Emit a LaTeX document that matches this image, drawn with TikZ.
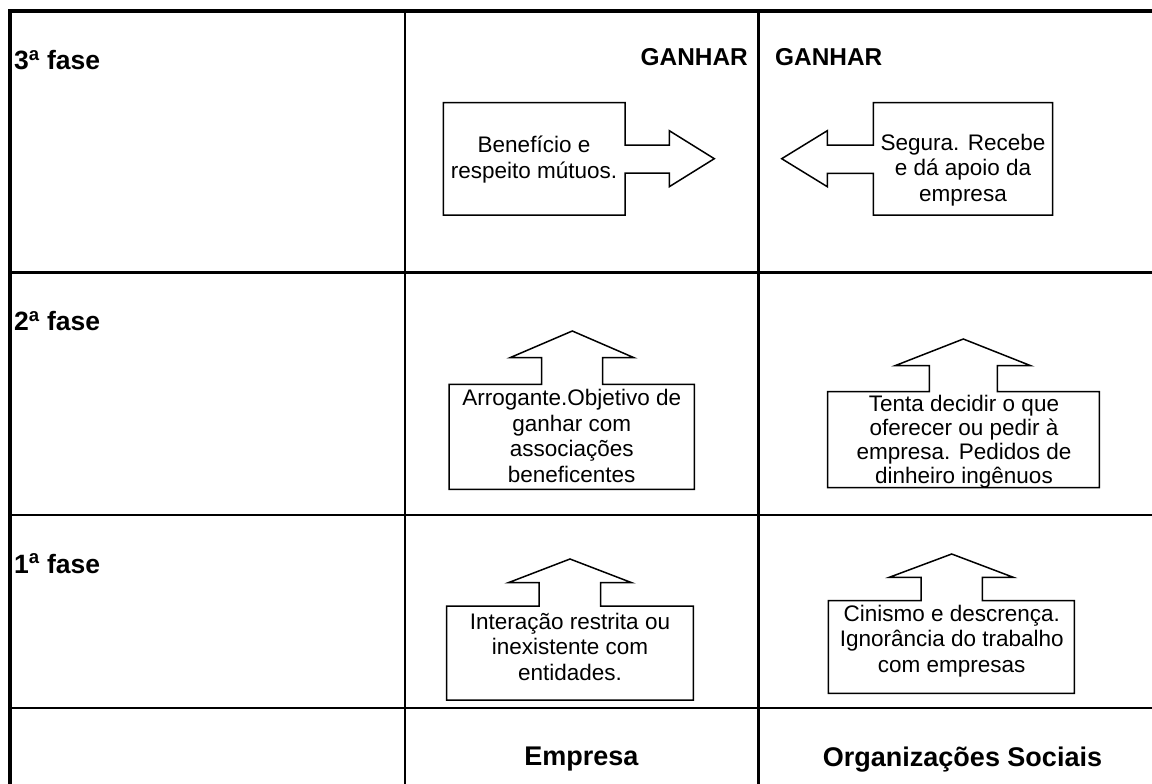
\documentclass[tikz,border=0pt]{standalone}
\usepackage{fontspec}
\setmainfont{Liberation Sans}
\begin{document}
\begin{tikzpicture}[x=1pt,y=-1pt,
  body/.style={font=\fontsize{22.5}{25.5}\selectfont, align=center, inner sep=0pt, anchor=base},
  phase/.style={font=\bfseries\fontsize{26.5}{30}\selectfont, inner sep=0pt, anchor=base west},
  head/.style={font=\bfseries\fontsize{24.4}{28}\selectfont, inner sep=0pt},
  foot/.style={font=\bfseries\fontsize{27}{30}\selectfont, inner sep=0pt, anchor=base},
  callout/.style={draw, line width=1.5pt, line join=miter},
  grid/.style={line width=2.5pt},
  frame/.style={line width=4pt, line join=miter}]
\clip (0,0) rectangle (1152,784);
\fill[white] (0,0) rectangle (1152,784);

% table rules
\draw[frame] (10.3,784) -- (10.3,11.3) -- (1152,11.3);
\draw[grid] (10.3,272.7) -- (1152,272.7);
\draw[grid] (10.3,515) -- (1152,515);
\draw[grid] (10.3,707.8) -- (1152,707.8);
\draw[grid] (405,11.3) -- (405,784);
\draw[grid] (758.7,11.3) -- (758.7,784);

% row labels
\node[phase] (f3) at (14,70) {3\textsuperscript{a} fase};
\node[phase] (f2) at (14,330.7) {2\textsuperscript{a} fase};
\node[phase] (f1) at (14,573) {1\textsuperscript{a} fase};

% column headings
\node[head, anchor=base east] (gl) at (748,65.7) {GANHAR};
\node[head, anchor=base west] (gr) at (775,65.7) {GANHAR};
\node[foot] (emp) at (581.3,765.7) {Empresa};
\node[foot] (org) at (962.5,766.7) {Organizações Sociais};

% 3rd phase: arrows pointing at each other (text nodes are placed by their last baseline)
\draw[callout] (443.3,102.7) -- (625,102.7) -- (625,145) -- (669.3,145) -- (669.3,130.7)
  -- (714.3,158.7) -- (669.3,186.7) -- (669.3,173) -- (625,173) -- (625,215) -- (443.3,215) -- cycle;
\node[body] (t3l) at (534,178) {Benefício e\\respeito mútuos.};

\draw[callout] (1052.7,102.7) -- (873.3,102.7) -- (873.3,145) -- (827.3,145) -- (827.3,130.7)
  -- (781.7,158.7) -- (827.3,186.7) -- (827.3,173.3) -- (873.3,173.3) -- (873.3,215) -- (1052.7,215) -- cycle;
\node[body] (t3r) at (963,201) {Segura. Recebe\\e dá apoio da\\empresa};

% 2nd phase: upward arrows
\draw[callout] (449,489.3) -- (449,384.3) -- (541.7,384.3) -- (541.7,357.7) -- (510,357.7)
  -- (572.3,331) -- (634,357.7) -- (602.7,357.7) -- (602.7,384.3) -- (694.3,384.3) -- (694.3,489.3) -- cycle;
\node[body] (t2l) at (571.7,482) {Arrogante.Objetivo de\\ganhar com\\associações\\beneficentes};

\draw[callout] (827.7,487.7) -- (827.7,391.7) -- (929.3,391.7) -- (929.3,365.7) -- (895,365.7)
  -- (963.3,339) -- (1030.7,365.7) -- (997.3,365.7) -- (997.3,391.7) -- (1099.3,391.7) -- (1099.3,487.7) -- cycle;
\node[body, font=\fontsize{22.5}{24}\selectfont] (t2r) at (964,483.5) {Tenta decidir o que\\oferecer ou pedir à\\empresa. Pedidos de\\dinheiro ingênuos};

% 1st phase: upward arrows
\draw[callout] (446.7,700) -- (446.7,606) -- (539,606) -- (539,582.7) -- (508.3,582.7)
  -- (570,559) -- (631.7,582.7) -- (600.7,582.7) -- (600.7,606) -- (693.3,606) -- (693.3,700) -- cycle;
\node[body] (t1l) at (570,680) {Interação restrita ou\\inexistente com\\entidades.};

\draw[callout] (828.3,693.3) -- (828.3,600.7) -- (921,600.7) -- (921,577.3) -- (889.3,577.3)
  -- (951.7,554) -- (1013.3,577.3) -- (982.3,577.3) -- (982.3,600.7) -- (1074.3,600.7) -- (1074.3,693.3) -- cycle;
\node[body] (t1r) at (951.7,672) {Cinismo e descrença.\\Ignorância do trabalho\\com empresas};
\end{tikzpicture}
\end{document}
